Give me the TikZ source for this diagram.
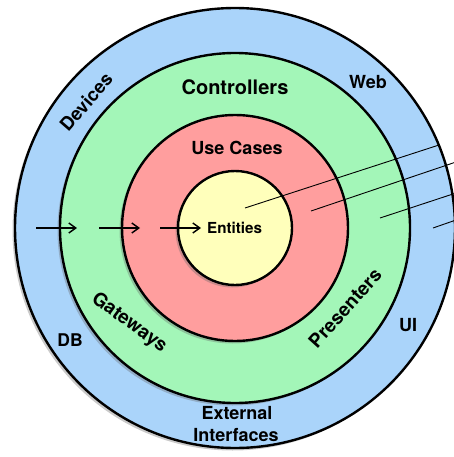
\documentclass[tikz,border=0pt]{standalone}
\usepackage{fontspec}
\setmainfont{TeX Gyre Heros}
\usetikzlibrary{arrows.meta,shadows}
\definecolor{ringblue}{RGB}{170,212,250}
\definecolor{ringgreen}{RGB}{163,246,184}
\definecolor{ringred}{RGB}{255,158,158}
\definecolor{ringyellow}{RGB}{255,255,187}
\tikzset{
  ring/.style={circle, draw=black, line width=2.4pt, inner sep=0pt,
    drop shadow={shadow xshift=-2.5pt, shadow yshift=-2.5pt, opacity=0.35, fill=black!60}},
  lbl/.style={font=\bfseries, inner sep=0pt, text=black},
  flow/.style={line width=1.4pt, -{Straight Barb[length=7pt,width=10pt,line width=1.4pt]}},
  pointer/.style={line width=0.9pt}
}
\begin{document}
\begin{tikzpicture}[x=1pt,y=-1pt]
\useasboundingbox (0,0) rectangle (454,457);
\begin{scope}
\clip (0,0) rectangle (454,457);
\node[ring, fill=ringblue, minimum size=440pt] (ext) at (235,228) {};
\node[ring, fill=ringgreen, minimum size=350pt] (ctl) at (235,228) {};
\node[ring, fill=ringred, minimum size=226pt] (uc) at (235,228) {};
\node[ring, fill=ringyellow, minimum size=114pt] (ent) at (235,228) {};

% labels
\node[lbl, font=\fontsize{20}{21}\selectfont\bfseries] (tctl) at (235,87) {Controllers};
\node[lbl, font=\fontsize{18}{19}\selectfont\bfseries] (tuc) at (237,148) {Use Cases};
\node[lbl, font=\fontsize{15.2}{16}\selectfont\bfseries, anchor=west] (tent) at (207,228) {Entities};
\node[lbl, font=\fontsize{18}{19}\selectfont\bfseries] (tweb) at (368,82) {Web};
\node[lbl, font=\fontsize{18.5}{19}\selectfont\bfseries, rotate=49] (tdev) at (86,102) {Devices};
\node[lbl, font=\fontsize{19}{20}\selectfont\bfseries, rotate=-36] (tgw) at (129,323) {Gateways};
\node[lbl, font=\fontsize{19}{20}\selectfont\bfseries, rotate=48] (tpr) at (345,308) {Presenters};
\node[lbl, font=\fontsize{17.5}{18}\selectfont\bfseries] (tdb) at (70,340) {DB};
\node[lbl, font=\fontsize{18}{19}\selectfont\bfseries] (tui) at (408,325) {UI};
\node[lbl, font=\fontsize{18}{19}\selectfont\bfseries] (tex1) at (237,413) {External};
\node[lbl, font=\fontsize{18}{19}\selectfont\bfseries] (tex2) at (236,435) {Interfaces};

% dependency arrows
\coordinate (a1s) at (36,228);  \coordinate (a1e) at (77,228);
\coordinate (a2s) at (99,228);  \coordinate (a2e) at (140,228);
\coordinate (a3s) at (160,228); \coordinate (a3e) at (201,228);
\draw[flow] (a1s) -- (a1e);
\draw[flow] (a2s) -- (a2e);
\draw[flow] (a3s) -- (a3e);

% pointer lines
\coordinate (p1s) at (245,208); \coordinate (p1e) at (439,145);
\coordinate (p2s) at (311,211); \coordinate (p2e) at (456,162);
\coordinate (p3s) at (380,218); \coordinate (p3e) at (456,193);
\coordinate (p4s) at (433,228); \coordinate (p4e) at (456,220);
\draw[pointer] (p1s) -- (p1e);
\draw[pointer] (p2s) -- (p2e);
\draw[pointer] (p3s) -- (p3e);
\draw[pointer] (p4s) -- (p4e);
\end{scope}
\end{tikzpicture}
\end{document}
